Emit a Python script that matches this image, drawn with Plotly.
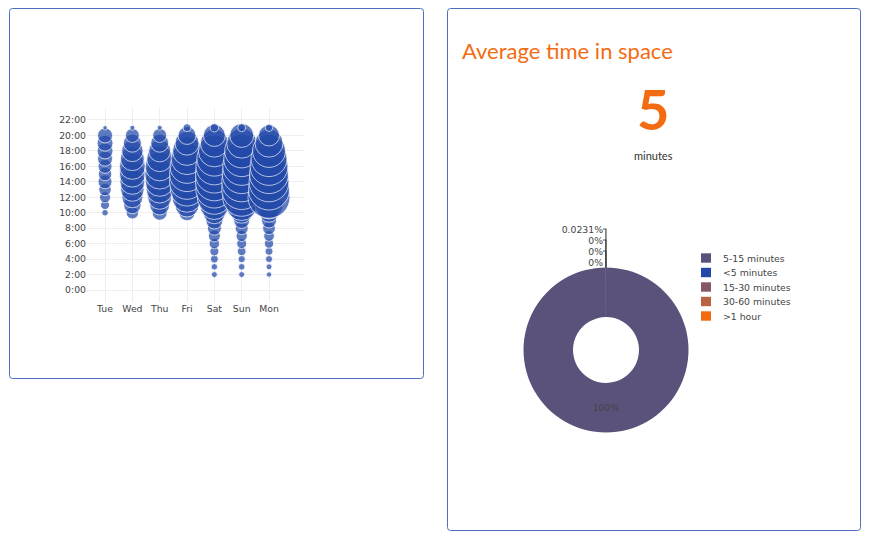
import plotly.graph_objects as go

# ---- data ----
days = ["Tue", "Wed", "Thu", "Fri", "Sat", "Sun", "Mon"]
hour_ticks = list(range(0, 23, 2))
hour_labels = [f"{h}:00" for h in hour_ticks]

# visits per hour for each day (hour: count)
tue_hours = list(range(10, 22))
tue_counts = [21, 41, 61, 78, 98, 91, 98, 113, 128, 128, 113, 10]
wed_hours = list(range(10, 22))
wed_counts = [78, 153, 221, 276, 313, 338, 338, 288, 231, 162, 98, 13]
thu_hours = list(range(10, 22))
thu_counts = [113, 200, 288, 365, 421, 450, 421, 338, 242, 162, 98, 13]
fri_hours = list(range(10, 22))
fri_counts = [128, 288, 450, 545, 613, 613, 578, 512, 421, 288, 162, 32]
sat_hours = list(range(2, 22))
sat_counts = [18, 21, 32, 41, 55, 72, 98, 145, 242, 421, 578, 685, 722, 722, 685, 613, 512, 392, 242, 36]
sun_hours = list(range(2, 22))
sun_counts = [18, 22, 27, 38, 50, 64, 85, 128, 221, 481, 722, 800, 800, 761, 722, 648, 578, 450, 288, 32]
mon_hours = list(range(2, 22))
mon_counts = [15, 18, 25, 32, 43, 57, 81, 113, 181, 392, 882, 841, 800, 761, 722, 648, 545, 392, 221, 28]

day_hours = [tue_hours, wed_hours, thu_hours, fri_hours, sat_hours, sun_hours, mon_hours]
day_counts = [tue_counts, wed_counts, thu_counts, fri_counts, sat_counts, sun_counts, mon_counts]

avg_minutes = 5
duration_labels = ["<5 minutes", "5-15 minutes", "15-30 minutes", "30-60 minutes", ">1 hour"]
duration_values = [1, 4329, 0, 0, 0]

# ---- styling ----
OFF = 8                      # page body margin
W, H = 872 - 2 * OFF, 540 - 2 * OFF
ORANGE = "#f36c12"
BLUE = "#2249a9"
pie_colors = ["#2249a9", "#5b527c", "#87566b", "#bb6245", "#f26b10"]
TXT = "DejaVu Sans, Verdana, sans-serif"
FS = 9.3

def px_x(p):
    return (p - OFF) / W

def px_y(p):
    return 1 - (p - OFF) / H

fig = go.Figure()

for d, hrs, cnts in zip(days, day_hours, day_counts):
    fig.add_trace(go.Scatter(
        x=[d] * len(hrs), y=hrs, mode="markers", showlegend=False,
        marker=dict(size=cnts, sizemode="area", sizeref=1, color=BLUE,
                    opacity=0.72, line=dict(color="rgba(255,255,255,0.9)", width=1)),
        hoverinfo="x+y",
    ))

fig.add_trace(go.Pie(
    labels=duration_labels, values=duration_values, hole=0.4, sort=True,
    marker=dict(colors=pie_colors),
    textinfo="percent", textfont=dict(family=TXT, size=FS, color="#444"),
    domain=dict(x=[px_x(523.5), px_x(688.5)], y=[px_y(432.5), px_y(267.5)]),
    showlegend=False,
))

def rounded_rect(x0, y0, x1, y1, r=3):
    X0, X1 = px_x(x0), px_x(x1)
    Y0, Y1 = px_y(y0), px_y(y1)
    rx, ry = r / W, r / H
    return (f"M{X0+rx},{Y0} L{X1-rx},{Y0} Q{X1},{Y0} {X1},{Y0-ry} "
            f"L{X1},{Y1+ry} Q{X1},{Y1} {X1-rx},{Y1} L{X0+rx},{Y1} "
            f"Q{X0},{Y1} {X0},{Y1+ry} L{X0},{Y0-ry} Q{X0},{Y0} {X0+rx},{Y0} Z")

shapes = [
    dict(type="path", xref="paper", yref="paper", path=rounded_rect(9.5, 8.5, 423.5, 378.5),
         line=dict(color="#4d70c0", width=1), layer="below"),
    dict(type="path", xref="paper", yref="paper", path=rounded_rect(447.5, 8.5, 860.5, 530.5),
         line=dict(color="#4d70c0", width=1), layer="below"),
]

annotations = [
    dict(text="Average time in space", x=px_x(460), y=px_y(51), xref="paper", yref="paper",
         xanchor="left", yanchor="middle", showarrow=False,
         font=dict(family="Lato, sans-serif", size=22, color=ORANGE)),
    dict(text=str(avg_minutes), x=px_x(653), y=px_y(109), xref="paper", yref="paper",
         xanchor="center", yanchor="middle", showarrow=False,
         font=dict(family="Lato, sans-serif", size=56, color=ORANGE, weight="bold")),
    dict(text="minutes", x=px_x(653), y=px_y(155), xref="paper", yref="paper",
         xanchor="center", yanchor="middle", showarrow=False,
         font=dict(family="Lato, sans-serif", size=11, color="#333")),
]

# legend (in the pie's sorted order: by value, descending)
order = sorted(range(len(duration_values)), key=lambda i: -duration_values[i])
leg_x, leg_y, leg_step = 701, 258, 14.5
for k, i in enumerate(order):
    cy = leg_y + k * leg_step
    shapes.append(dict(type="rect", xref="paper", yref="paper",
                       x0=px_x(leg_x), x1=px_x(leg_x + 10), y0=px_y(cy + 4.7), y1=px_y(cy - 4.7),
                       fillcolor=pie_colors[i], line=dict(width=0)))
    annotations.append(dict(text=duration_labels[i], x=px_x(leg_x + 20), y=px_y(cy),
                            xref="paper", yref="paper", xanchor="left", yanchor="middle",
                            showarrow=False, font=dict(family=TXT, size=FS, color="#444")))

fig.update_layout(
    width=W, height=H, autosize=False,
    margin=dict(l=0, r=0, t=0, b=0),
    paper_bgcolor="white", plot_bgcolor="white",
    font=dict(family=TXT, size=FS, color="#444"),
    shapes=shapes, annotations=annotations, showlegend=False,
    xaxis=dict(domain=[px_x(87), px_x(304)], range=[-0.66, 7.28], type="category",
               categoryorder="array", categoryarray=days,
               showgrid=True, gridcolor="#eee", zeroline=False, showline=False, ticks="",
               tickfont=dict(family=TXT, size=FS, color="#444")),
    yaxis=dict(domain=[px_y(301.6), px_y(108.4)], range=[-1.5, 23.5],
               tickvals=hour_ticks, ticktext=hour_labels,
               showgrid=True, gridcolor="#eee", zeroline=False, showline=False, ticks="",
               tickfont=dict(family=TXT, size=FS, color="#444")),
)

fig.write_html("out.html")
